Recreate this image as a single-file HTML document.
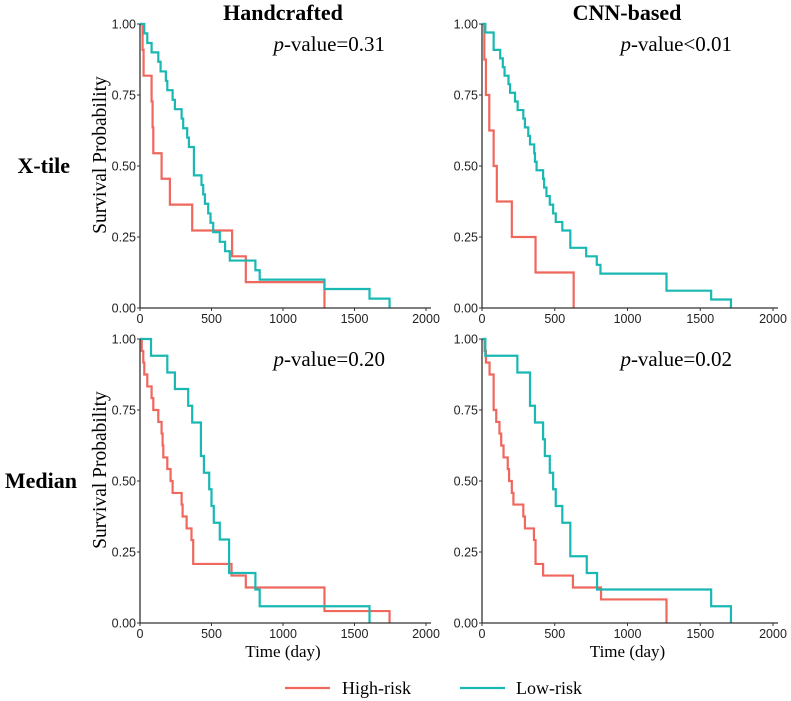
<!DOCTYPE html>
<html><head><meta charset="utf-8">
<style>
body{margin:0;background:#fff;}
svg{display:block;}
.tk{font-family:"Liberation Sans",sans-serif;font-size:12.5px;fill:#222;}
.sf{font-family:"Liberation Serif",serif;}
</style></head>
<body>
<svg id="chart" width="791" height="701" viewBox="0 0 791 701">
<text class="sf" x="283" y="20" font-size="22" font-weight="bold" text-anchor="middle">Handcrafted</text>
<text class="sf" x="627" y="20" font-size="22" font-weight="bold" text-anchor="middle">CNN-based</text>
<text class="sf" x="70" y="173" font-size="22" font-weight="bold" text-anchor="end">X-tile</text>
<text class="sf" x="77" y="488" font-size="22" font-weight="bold" text-anchor="end">Median</text>
<g>
<line x1="285" y1="688" x2="330" y2="688" stroke="#F0675E" stroke-width="2.2"/>
<text class="sf" x="342" y="694" font-size="18">High-risk</text>
<line x1="460" y1="688" x2="505" y2="688" stroke="#19B8B3" stroke-width="2.2"/>
<text class="sf" x="516" y="694" font-size="18">Low-risk</text>
</g>
</svg>
<script>
// ---- data ----
const xTicks = [0, 500, 1000, 1500, 2000];
const yTicks = [0, 0.25, 0.5, 0.75, 1];
const yTickLabels = ["0.00", "0.25", "0.50", "0.75", "1.00"];
const pValues = ["=0.31", "<0.01", "=0.20", "=0.02"];
// Handcrafted X-tile
const hxHighT = [0, 18, 25, 81, 88, 93, 151, 209, 365, 644, 740, 1290];
const hxHighS = [1, 0.909, 0.818, 0.727, 0.636, 0.545, 0.455, 0.364, 0.273, 0.182, 0.091, 0];
const hxLowT = [0, 30, 51, 81, 128, 144, 181, 191, 228, 244, 291, 302, 330, 342, 377, 430, 442, 454, 477, 493, 512, 558, 595, 628, 807, 837, 1290, 1605, 1745];
const hxLowS = [1, 0.967, 0.933, 0.9, 0.867, 0.833, 0.8, 0.767, 0.733, 0.7, 0.667, 0.633, 0.6, 0.567, 0.467, 0.433, 0.4, 0.367, 0.333, 0.3, 0.267, 0.233, 0.2, 0.167, 0.133, 0.1, 0.067, 0.033, 0];
// CNN X-tile
const cxHighT = [0, 16, 27, 50, 80, 102, 205, 368, 630];
const cxHighS = [1, 0.875, 0.75, 0.625, 0.5, 0.375, 0.25, 0.125, 0];
const cxLowT = [0, 23, 80, 125, 143, 155, 182, 193, 227, 245, 284, 295, 318, 330, 359, 364, 375, 420, 427, 443, 466, 489, 507, 552, 607, 716, 789, 814, 1268, 1575, 1711];
const cxLowS = [1, 0.97, 0.909, 0.879, 0.848, 0.818, 0.788, 0.758, 0.727, 0.697, 0.667, 0.636, 0.606, 0.576, 0.545, 0.515, 0.485, 0.455, 0.424, 0.394, 0.364, 0.333, 0.303, 0.273, 0.212, 0.182, 0.152, 0.121, 0.061, 0.03, 0];
// Handcrafted Median
const hmHighT = [0, 12, 23, 30, 51, 81, 93, 128, 151, 158, 163, 191, 214, 228, 291, 298, 326, 360, 372, 640, 740, 1290, 1745];
const hmHighS = [1, 0.958, 0.917, 0.875, 0.833, 0.792, 0.75, 0.708, 0.667, 0.625, 0.583, 0.542, 0.5, 0.458, 0.417, 0.375, 0.333, 0.292, 0.208, 0.167, 0.125, 0.042, 0];
const hmLowT = [0, 77, 191, 244, 337, 365, 426, 447, 484, 500, 516, 558, 623, 807, 837, 1605];
const hmLowS = [1, 0.941, 0.882, 0.824, 0.765, 0.706, 0.588, 0.529, 0.471, 0.412, 0.353, 0.294, 0.176, 0.118, 0.059, 0];
// CNN Median
const cmHighT = [0, 18, 27, 52, 80, 98, 120, 132, 148, 177, 186, 205, 216, 284, 295, 357, 368, 420, 625, 818, 1268];
const cmHighS = [1, 0.958, 0.917, 0.875, 0.75, 0.708, 0.667, 0.625, 0.583, 0.542, 0.5, 0.458, 0.417, 0.375, 0.333, 0.292, 0.208, 0.167, 0.125, 0.083, 0];
const cmLowT = [0, 23, 243, 330, 364, 420, 432, 466, 489, 507, 552, 607, 720, 791, 1575, 1711];
const cmLowS = [1, 0.941, 0.882, 0.765, 0.706, 0.647, 0.588, 0.529, 0.471, 0.412, 0.353, 0.235, 0.176, 0.118, 0.059, 0];

const NS = "http://www.w3.org/2000/svg";
const svg = document.getElementById("chart");
function mk(tag, attrs, parent) {
  const e = document.createElementNS(NS, tag);
  for (const k in attrs) e.setAttribute(k, attrs[k]);
  (parent || svg).appendChild(e);
  return e;
}
const RED = "#F0675E", TEAL = "#19B8B3";

const panels = [
  {name:"handcrafted-xtile", x0:140, x1:426, y0:308, y1:24, ylab:true, xlab:false, p:pValues[0], hi:[hxHighT,hxHighS], lo:[hxLowT,hxLowS]},
  {name:"cnn-xtile", x0:482, x1:773, y0:308, y1:24, ylab:false, xlab:false, p:pValues[1], hi:[cxHighT,cxHighS], lo:[cxLowT,cxLowS]},
  {name:"handcrafted-median", x0:140, x1:426, y0:623, y1:339, ylab:true, xlab:true, p:pValues[2], hi:[hmHighT,hmHighS], lo:[hmLowT,hmLowS]},
  {name:"cnn-median", x0:482, x1:773, y0:623, y1:339, ylab:false, xlab:true, p:pValues[3], hi:[cmHighT,cmHighS], lo:[cmLowT,cmLowS]}
];

panels.forEach(P => {
  const g = mk("g", {});
  
  
  const xs = t => P.x0 + (t / 2000) * (P.x1 - P.x0);
  const ys = s => P.y0 - s * (P.y0 - P.y1);

  function curve(T, S, color, nm) {
    let d = "M" + xs(T[0]) + "," + ys(S[0]);
    for (let i = 1; i < T.length; i++) {
      d += " H" + xs(T[i]) + " V" + ys(S[i]);
    }
    const p = mk("path", {d:d, fill:"none", stroke:color, "stroke-width":2.2}, g);
    
    
  }
  curve(P.hi[0], P.hi[1], RED, 'high-risk-curve');
  curve(P.lo[0], P.lo[1], TEAL, 'low-risk-curve');

  const ax = mk("line", {x1:P.x0, y1:P.y1, x2:P.x0, y2:P.y0+0.5, stroke:"#333", "stroke-width":1.3}, g);
  
  
  const axx = mk("line", {x1:P.x0, y1:P.y0, x2:P.x1+5, y2:P.y0, stroke:"#333", "stroke-width":1.3}, g);
  
  

  yTicks.forEach((v, i) => {
    mk("line", {x1:P.x0-3, x2:P.x0, y1:ys(v), y2:ys(v), stroke:"#333", "stroke-width":1}, g);
    const t = mk("text", {x:P.x0-4, y:ys(v)+4.5, "text-anchor":"end", class:"tk"}, g);
    t.textContent = yTickLabels[i];
    
    
  });
  xTicks.forEach(v => {
    mk("line", {x1:xs(v), x2:xs(v), y1:P.y0, y2:P.y0+3, stroke:"#333", "stroke-width":1}, g);
    const t = mk("text", {x:xs(v), y:P.y0+15, "text-anchor":"middle", class:"tk"}, g);
    t.textContent = v;
    
    
  });

  const pt = mk("text", {x:P.x1-41, y:P.y1+27, "text-anchor":"end", class:"sf", "font-size":"21"}, g);
  
  
  const it = mk("tspan", {"font-style":"italic"}, pt); it.textContent = "p";
  const rt = mk("tspan", {}, pt); rt.textContent = "-value" + P.p;

  if (P.ylab) {
    const cy = (P.y0 + P.y1) / 2 - 11;
    const yt = mk("text", {x:106, y:cy, transform:"rotate(-90 106 " + cy + ")", "text-anchor":"middle", class:"sf", "font-size":"19.5"}, g);
    yt.textContent = "Survival Probability";
    
    
  }
  if (P.xlab) {
    const xt = mk("text", {x:(P.x0+P.x1)/2, y:P.y0+34, "text-anchor":"middle", class:"sf", "font-size":"17"}, g);
    xt.textContent = "Time (day)";
    
    
  }
});
</script>
</body></html>
